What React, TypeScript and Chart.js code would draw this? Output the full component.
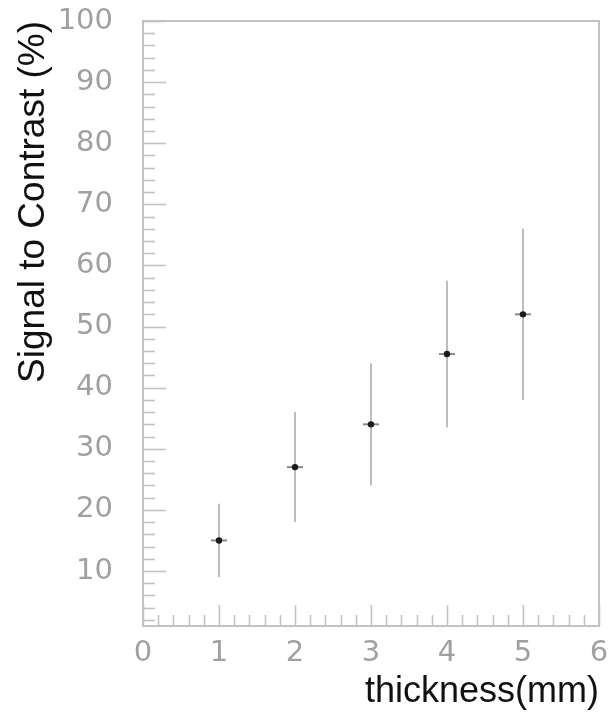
import React, { useEffect, useRef } from "react";
import { Chart, registerables } from "chart.js";

Chart.register(...registerables);

// Data
const thickness = [1, 2, 3, 4, 5];
const signalToContrast = [15, 27, 34, 45.5, 52];
const errors = [6, 9, 10, 12, 14];

// Axis definitions
const xTickValues = [0, 1, 2, 3, 4, 5, 6];
const yTickValues = [10, 20, 30, 40, 50, 60, 70, 80, 90, 100];
const X_MIN = 0;
const X_MAX = 6;
const Y_MIN = 1;
const Y_MAX = 100;
const X_MINOR_STEP = 0.2;
const Y_MINOR_STEP = 2;

const FRAME_COLOR = "#c2c2c2";
const TICK_LABEL_COLOR = "#a0a0a0";
const FONT = "'Liberation Sans', Arial, Helvetica, sans-serif";
const TICK_FONT = "'DejaVu Sans', 'Liberation Sans', sans-serif";

const framePlugin = {
  id: "rootFrame",
  beforeDatasetsDraw(chart: any) {
    const { ctx, chartArea: a, scales } = chart;
    const x = scales.x;
    const y = scales.y;
    ctx.save();
    ctx.strokeStyle = FRAME_COLOR;
    ctx.lineWidth = 2;
    ctx.strokeRect(a.left, a.top, a.right - a.left, a.bottom - a.top);

    ctx.lineWidth = 1.6;
    const nx = Math.round((X_MAX - X_MIN) / X_MINOR_STEP);
    for (let i = 0; i <= nx; i++) {
      const v = X_MIN + i * X_MINOR_STEP;
      const major = Math.abs(v - Math.round(v)) < 1e-6;
      const px = Math.round(x.getPixelForValue(v)) + 0.5;
      const len = major ? 21 : 11;
      ctx.beginPath();
      ctx.moveTo(px, a.bottom);
      ctx.lineTo(px, a.bottom - len);
      ctx.stroke();
    }
    for (let v = Y_MAX; v >= Y_MIN; v -= Y_MINOR_STEP) {
      const major = v % 10 === 0;
      const py = Math.round(y.getPixelForValue(v)) + 0.5;
      const len = major ? 23 : 12;
      ctx.beginPath();
      ctx.moveTo(a.left, py);
      ctx.lineTo(a.left + len, py);
      ctx.stroke();
    }

    ctx.lineWidth = 2;
    for (let i = 0; i < thickness.length; i++) {
      const px = x.getPixelForValue(thickness[i]);
      const top = y.getPixelForValue(signalToContrast[i] + errors[i]);
      const bot = y.getPixelForValue(signalToContrast[i] - errors[i]);
      const mid = y.getPixelForValue(signalToContrast[i]);
      ctx.strokeStyle = "#bdbdbd";
      ctx.beginPath();
      ctx.moveTo(px, top);
      ctx.lineTo(px, bot);
      ctx.stroke();
      ctx.strokeStyle = "#8a8a8a";
      ctx.beginPath();
      ctx.moveTo(px - 8, mid);
      ctx.lineTo(px + 8, mid);
      ctx.stroke();
    }
    ctx.restore();
  },
};

export default function App() {
  const canvasRef = useRef<HTMLCanvasElement | null>(null);

  useEffect(() => {
    if (!canvasRef.current) return;
    const chart = new Chart(canvasRef.current, {
      type: "scatter",
      data: {
        datasets: [
          {
            label: "Signal to Contrast",
            data: thickness.map((t, i) => ({ x: t, y: signalToContrast[i] })),
            pointRadius: 3.2,
            pointHoverRadius: 3.2,
            pointBackgroundColor: "#1a1a1a",
            pointBorderColor: "#1a1a1a",
            pointBorderWidth: 0,
            showLine: false,
          },
        ],
      },
      options: {
        responsive: false,
        animation: false,
        events: [],
        layout: { padding: { left: 0, top: 21, right: 10, bottom: 0 } },
        plugins: {
          legend: { display: false },
          tooltip: { enabled: false },
          title: { display: false },
        },
        scales: {
          x: {
            type: "linear",
            min: X_MIN,
            max: X_MAX,
            grid: { display: false },
            border: { display: false },
            afterBuildTicks: (scale: any) => {
              scale.ticks = xTickValues.map((v) => ({ value: v }));
            },
            afterFit: (scale: any) => {
              scale.height = 96;
              scale.paddingLeft = 0;
              scale.paddingRight = 0;
            },
            ticks: {
              color: TICK_LABEL_COLOR,
              font: { family: TICK_FONT, size: 29 },
              padding: 2,
              maxRotation: 0,
              autoSkip: false,
            },
            title: {
              display: true,
              text: "thickness(mm)",
              align: "end",
              color: "#111111",
              font: { family: FONT, size: 36 },
              padding: { top: 0, bottom: 8 },
            },
          },
          y: {
            type: "linear",
            min: Y_MIN,
            max: Y_MAX,
            grid: { display: false },
            border: { display: false },
            afterBuildTicks: (scale: any) => {
              scale.ticks = yTickValues.map((v) => ({ value: v }));
            },
            afterFit: (scale: any) => {
              scale.width = 143;
              scale.paddingTop = 0;
              scale.paddingBottom = 0;
            },
            ticks: {
              color: TICK_LABEL_COLOR,
              font: { family: TICK_FONT, size: 29 },
              padding: 22,
              autoSkip: false,
            },
            title: {
              display: true,
              text: "Signal to Contrast (%)",
              align: "end",
              color: "#111111",
              font: { family: FONT, size: 37 },
              padding: { top: 12, bottom: 0 },
            },
          },
        },
      },
      plugins: [framePlugin],
    } as any);
    return () => chart.destroy();
  }, []);

  return (
    <div style={{ position: "fixed", left: 0, top: 0, width: 609, height: 722, background: "#fff" }}>
      <canvas ref={canvasRef} width={609} height={722} style={{ display: "block" }} />
    </div>
  );
}
